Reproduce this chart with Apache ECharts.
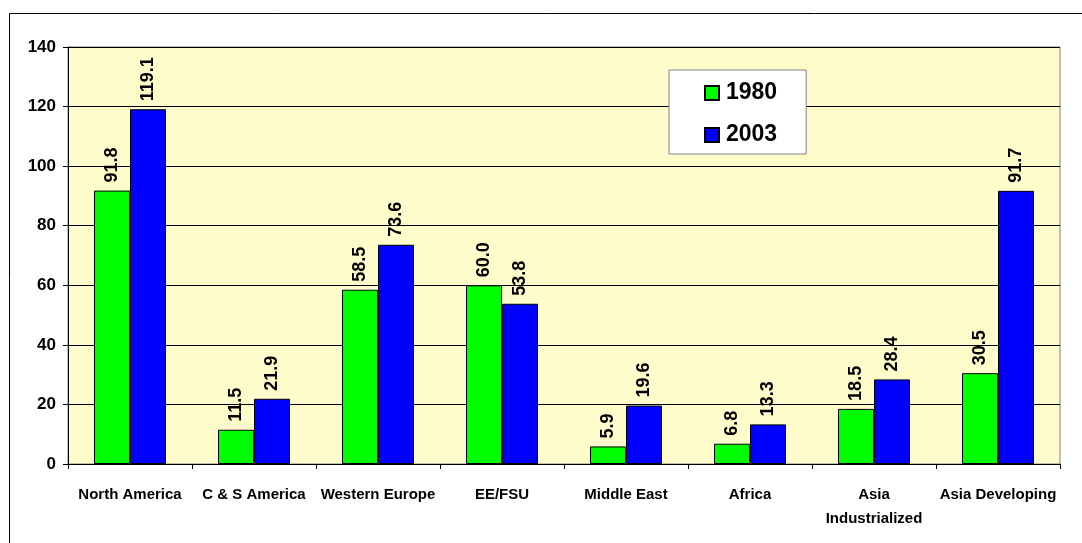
<!DOCTYPE html>
<html>
<head>
<meta charset="utf-8">
<script src="https://cdn.jsdelivr.net/npm/echarts@6/dist/echarts.min.js"></script>
<style>
  html, body { margin: 0; padding: 0; background: #ffffff; }
  #chart { width: 1082px; height: 543px; }
</style>
</head>
<body>
<div id="chart"></div>
<script>
// Regions and their values for the two years
const categories = ['North America', 'C & S America', 'Western Europe', 'EE/FSU',
  'Middle East', 'Africa', 'Asia\nIndustrialized', 'Asia Developing'];
const values1980 = [91.8, 11.5, 58.5, 60.0, 5.9, 6.8, 18.5, 30.5];
const values2003 = [119.1, 21.9, 73.6, 53.8, 19.6, 13.3, 28.4, 91.7];
const yTicks = { min: 0, max: 140, interval: 20 };

const FONT = 'Liberation Sans, Arial, sans-serif';

const chart = echarts.init(document.getElementById('chart'), null, { renderer: 'canvas' });

function barSeries(name, data, color) {
  return {
    name: name,
    type: 'bar',
    data: data,
    barWidth: 36,
    barGap: '0%',
    itemStyle: { color: color, borderColor: '#000000', borderWidth: 1 },
    label: {
      show: true,
      position: 'top',
      rotate: 90,
      align: 'left',
      verticalAlign: 'middle',
      distance: 8,
      fontFamily: FONT,
      fontWeight: 'bold',
      fontSize: 18,
      color: '#000000',
      formatter: p => p.value.toFixed(1)
    }
  };
}

chart.setOption({
  animation: false,
  backgroundColor: '#ffffff',
  graphic: [{
    type: 'rect',
    shape: { x: 9.5, y: 13.5, width: 1200, height: 700 },
    style: { fill: 'none', stroke: '#000000', lineWidth: 1 },
    silent: true,
    z: -10
  }],
  grid: {
    left: 68, top: 47, right: 22, bottom: 79,
    show: true,
    backgroundColor: '#FFFCCC',
    borderColor: '#808080',
    borderWidth: 1
  },
  legend: {
    orient: 'vertical',
    left: 669,
    top: 70,
    padding: [9, 29, 5, 35],
    itemGap: 14,
    itemWidth: 14,
    itemHeight: 14,
    icon: 'rect',
    backgroundColor: '#ffffff',
    borderColor: '#808080',
    borderWidth: 1,
    textStyle: {
      fontFamily: FONT,
      fontWeight: 'bold',
      fontSize: 23,
      lineHeight: 28,
      color: '#000000',
      padding: [0, 0, 0, 2]
    },
    data: ['1980', '2003']
  },
  xAxis: {
    type: 'category',
    data: categories,
    axisLine: { lineStyle: { color: '#000000', width: 1 } },
    axisTick: { show: true, length: 5, lineStyle: { color: '#000000' } },
    axisLabel: {
      interval: 0,
      margin: 19,
      fontFamily: FONT,
      fontWeight: 'bold',
      fontSize: 15,
      lineHeight: 24,
      color: '#000000'
    }
  },
  yAxis: {
    type: 'value',
    min: yTicks.min,
    max: yTicks.max,
    interval: yTicks.interval,
    axisLine: { show: true, lineStyle: { color: '#000000', width: 1 } },
    axisTick: { show: true, length: 5, lineStyle: { color: '#000000' } },
    axisLabel: {
      margin: 12,
      padding: [4, 0, 0, 0],
      fontFamily: FONT,
      fontWeight: 'bold',
      fontSize: 17,
      color: '#000000'
    },
    splitLine: { show: true, lineStyle: { color: '#000000', width: 1 } }
  },
  series: [
    barSeries('1980', values1980, '#00FF00'),
    barSeries('2003', values2003, '#0000FF')
  ]
});
</script>
</body>
</html>
